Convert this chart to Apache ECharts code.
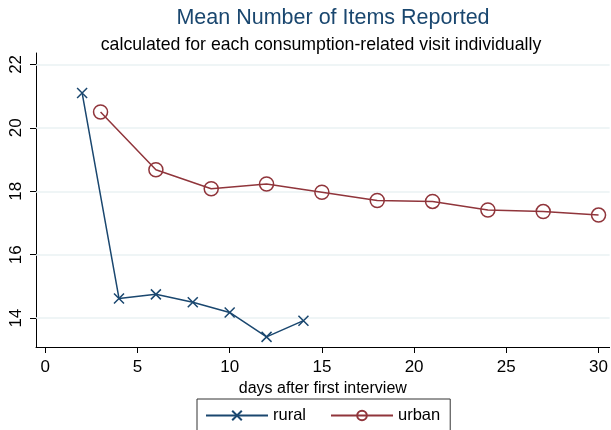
<!DOCTYPE html>
<html>
<head>
<meta charset="utf-8">
<script src="https://cdn.jsdelivr.net/npm/echarts@6/dist/echarts.min.js"></script>
<style>
html,body{margin:0;padding:0;background:#fff;}
#chart{width:611px;height:430px;}
</style>
</head>
<body>
<div id="chart"></div>
<script>
const titleText = "Mean Number of Items Reported";
const subtitleText = "calculated for each consumption-related visit individually";
const xAxisName = "days after first interview";
const ruralDays = [2, 4, 6, 8, 10, 12, 14];
const ruralValues = [21.10, 14.62, 14.75, 14.50, 14.18, 13.41, 13.92];
const urbanDays = [3, 6, 9, 12, 15, 18, 21, 24, 27, 30];
const urbanValues = [20.50, 18.68, 18.08, 18.23, 17.97, 17.71, 17.68, 17.41, 17.36, 17.25];
const xTicks = [0, 5, 10, 15, 20, 25, 30];
const yTicks = [14, 16, 18, 20, 22];

const FONT = "'Liberation Sans', Arial, sans-serif";
const NAVY = '#1a476f';
const MAROON = '#90353b';
const X_PATH = 'path://M0,0L10,10M10,0L0,10';

const chart = echarts.init(document.getElementById('chart'), null, {renderer: 'canvas'});
chart.setOption({
  animation: false,
  backgroundColor: '#fff',
  title: [
    {text: titleText, top: 2, left: 328, textAlign: 'center',
     textStyle: {color: NAVY, fontSize: 21.5, fontWeight: 'normal', fontFamily: FONT}},
    {text: subtitleText, top: 31, left: 316, textAlign: 'center',
     textStyle: {color: '#000', fontSize: 17.7, fontWeight: 'normal', fontFamily: FONT}}
  ],
  grid: {left: 36, right: 0, top: 53, bottom: 83, containLabel: false},
  legend: {
    left: 197, top: 399, width: 252,
    padding: [8, 10, 8, 8],
    borderColor: '#333', borderWidth: 1,
    itemWidth: 62, itemHeight: 12, itemGap: 24,
    textStyle: {fontSize: 16.5, fontFamily: FONT, color: '#000'},
    data: ['rural', 'urban']
  },
  xAxis: {
    type: 'value', min: -0.5, max: 30.6,
    name: xAxisName, nameLocation: 'middle', nameGap: 34,
    nameTextStyle: {fontSize: 16, fontFamily: FONT, color: '#000'},
    axisLine: {show: true, onZero: false, lineStyle: {color: '#000', width: 1}},
    axisTick: {show: true, length: 6, customValues: xTicks, lineStyle: {color: '#000'}},
    axisLabel: {customValues: xTicks, fontSize: 17, fontFamily: FONT, color: '#000', margin: 12},
    splitLine: {show: false}
  },
  yAxis: {
    type: 'value', min: 13.09, max: 22.36,
    axisLine: {show: true, onZero: false, lineStyle: {color: '#000', width: 1}},
    axisTick: {show: true, length: 6, customValues: yTicks, lineStyle: {color: '#000'}},
    axisLabel: {customValues: yTicks, rotate: 90, fontSize: 17, fontFamily: FONT, color: '#000', margin: 11},
    splitLine: {show: false}
  },
  series: [
    {
      name: 'rural', type: 'line',
      data: ruralDays.map((d, i) => [d, ruralValues[i]]),
      symbol: X_PATH, symbolSize: 10,
      lineStyle: {color: NAVY, width: 1.5},
      itemStyle: {color: NAVY, borderColor: NAVY, borderWidth: 1.5},
      z: 3,
      markLine: {
        silent: true, symbol: 'none', label: {show: false},
        lineStyle: {color: '#eaf2f3', width: 1.5, type: 'solid'},
        data: yTicks.map(v => ({yAxis: v})),
        z: 1
      }
    },
    {
      name: 'urban', type: 'line',
      data: urbanDays.map((d, i) => [d, urbanValues[i]]),
      symbol: 'circle', symbolSize: 14,
      lineStyle: {color: MAROON, width: 1.5},
      itemStyle: {color: 'rgba(255,255,255,0)', borderColor: MAROON, borderWidth: 1.5},
      z: 3
    }
  ]
});
</script>
</body>
</html>
